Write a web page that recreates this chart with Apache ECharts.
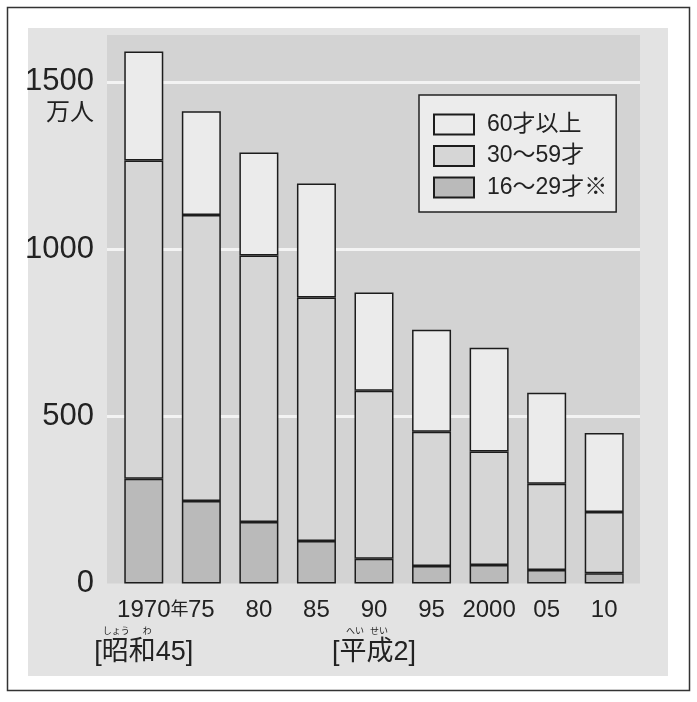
<!DOCTYPE html>
<html><head><meta charset="utf-8">
<script src="https://cdn.jsdelivr.net/npm/echarts@6/dist/echarts.min.js"></script>
<style>html,body{margin:0;padding:0;background:#fff}#c{width:697px;height:702px}</style>
</head><body><div id="c"></div>
<script>
// ---- data ----
const categories = ['1970', '75', '80', '85', '90', '95', '2000', '05', '10'];
const yearSuffix = '年';
const age16to29 = [313, 247, 184, 127, 74, 52, 55, 40, 31];
const age30to59 = [952, 855, 797, 728, 502, 402, 340, 258, 183];
const age60plus = [326, 310, 308, 341, 294, 305, 310, 272, 236];
const seriesNames = ['60才以上', '30～59才', '16～29才※'];
const yTicks = [0, 500, 1000, 1500];
const yUnit = '万人';
const eraRuby = ['しょう', 'わ', 'へい', 'せい'];
const eraText = ['[昭和45]', '[平成2]'];

const numFont = '"Liberation Sans", "Noto Sans CJK JP", sans-serif';
const mixFont = '"Liberation Sans", "Noto Sans CJK JP", sans-serif';
const ink = '#222';

const chart = echarts.init(document.getElementById('c'));

function xLabel(v, i) {
  let s = i === 0 ? '{p|}{y|' + v + '}{k|' + yearSuffix + '}' : '{y|' + v + '}';
  if (i === 0) s += '\n{f|' + eraRuby[0] + '}{g|}{f|' + eraRuby[1] + '}{s0|}\n{e|' + eraText[0] + '}';
  if (i === 4) s += '\n{f|' + eraRuby[2] + '}{h|}{f|' + eraRuby[3] + '}{s4|}\n{e|' + eraText[1] + '}';
  return s;
}

const barStyle = c => ({ color: c, borderColor: '#1c1c1c', borderWidth: 1.5 });

chart.setOption({
  backgroundColor: '#ffffff',
  animation: false,
  graphic: [
    { type: 'rect', z: -10, silent: true, shape: { x: 28, y: 28, width: 640, height: 648 }, style: { fill: '#e3e3e3' } },
    { type: 'rect', z: 100, silent: true, shape: { x: 7.5, y: 7.5, width: 682, height: 683 }, style: { fill: null, stroke: '#333', lineWidth: 1.5 } }
  ],
  grid: [
    { left: 107, right: 57, top: 35, bottom: 118.5, show: true, backgroundColor: '#d3d3d3', borderWidth: 0 },
    { left: 115, right: 64, top: 35, bottom: 118.5 }
  ],
  xAxis: [
    { gridIndex: 0, type: 'value', min: 0, max: 1, show: false },
    {
      gridIndex: 1, type: 'category', data: categories,
      axisLine: { show: false }, axisTick: { show: false },
      axisLabel: {
        interval: 0, margin: 12, formatter: xLabel, color: ink,
        rich: {
          y: { fontSize: 24, fontFamily: numFont, lineHeight: 30, color: ink },
          k: { fontSize: 18, fontFamily: mixFont, lineHeight: 30, color: ink },
          p: { width: 18, fontSize: 24, lineHeight: 30 },
          f: { fontSize: 9, fontFamily: mixFont, lineHeight: 12, color: ink },
          g: { width: 13, fontSize: 9, lineHeight: 12 },
          h: { width: 6, fontSize: 9, lineHeight: 12 },
          s0: { width: 33, fontSize: 9, lineHeight: 12 },
          s4: { width: 14, fontSize: 9, lineHeight: 12 },
          e: { fontSize: 27, fontFamily: mixFont, lineHeight: 30, color: ink }
        }
      }
    }
  ],
  yAxis: [
    {
      gridIndex: 0, type: 'value', min: 0, max: 1640, interval: 500,
      axisLine: { show: false }, axisTick: { show: false },
      splitLine: { showMaxLine: false, showMinLine: false, lineStyle: { color: '#f3f3f3', width: 3 } },
      axisLabel: {
        margin: 13, fontSize: 31, fontFamily: mixFont, color: ink,
        formatter: v => (yTicks.includes(v) ? String(v) : '')
      },
      name: yUnit, nameLocation: 'end', nameGap: -78,
      nameTextStyle: { fontSize: 24, fontFamily: mixFont, color: ink, align: 'right', verticalAlign: 'middle', padding: [0, 13, 0, 0] }
    },
    { gridIndex: 1, type: 'value', min: 0, max: 1640, show: false }
  ],
  legend: {
    data: seriesNames, orient: 'vertical', left: 419, top: 95,
    itemWidth: 40, itemHeight: 20, itemGap: 8.5,
    backgroundColor: '#ececec', borderColor: '#222', borderWidth: 1.5,
    padding: [18, 9, 13, 14], selectedMode: false, icon: 'rect',
    textStyle: { fontSize: 23, fontFamily: mixFont, color: ink, padding: [0, 0, 0, 8] }
  },
  series: [
    { name: seriesNames[2], type: 'bar', stack: 'total', xAxisIndex: 1, yAxisIndex: 1, barWidth: 39, data: age16to29, itemStyle: barStyle('#bababa') },
    { name: seriesNames[1], type: 'bar', stack: 'total', xAxisIndex: 1, yAxisIndex: 1, barWidth: 39, data: age30to59, itemStyle: barStyle('#d6d6d6') },
    { name: seriesNames[0], type: 'bar', stack: 'total', xAxisIndex: 1, yAxisIndex: 1, barWidth: 39, data: age60plus, itemStyle: barStyle('#ebebeb') }
  ]
});
</script>
</body></html>
